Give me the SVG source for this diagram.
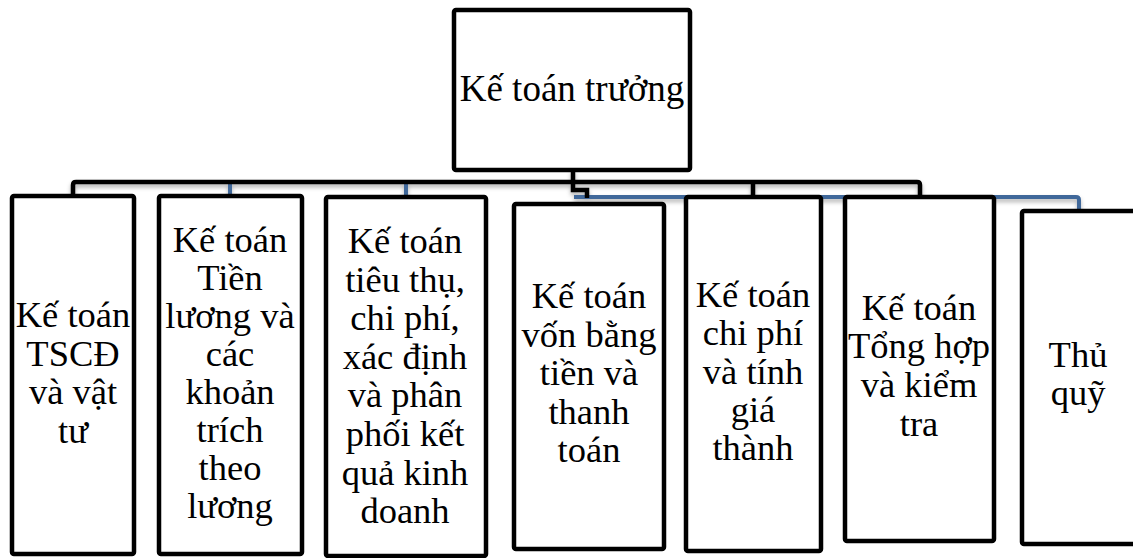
<svg xmlns="http://www.w3.org/2000/svg" width="1133" height="558" viewBox="0 0 1133 558">
  <defs>
    <filter id="soft" x="-10%" y="-10%" width="120%" height="140%">
      <feDropShadow dx="0" dy="3" stdDeviation="2" flood-color="#000" flood-opacity="0.3"/>
    </filter>
  </defs>
  <style>
    .box { fill: #fff; stroke: #000; stroke-width: 4.5; }
    .lbl { font-family: "Liberation Serif", "Times New Roman", serif; font-size: 36.5px; fill: #000; text-anchor: middle; }
    .top { font-size: 37px; }
    .blk { fill: none; stroke: #000; stroke-width: 4.5; }
    .blu { fill: none; stroke: #41679a; stroke-width: 4; }
  </style>
  <rect width="1133" height="558" fill="#fff"/>

  <!-- connectors -->
  <g id="connectors" filter="url(#soft)">
    <path class="blu" d="M230,183 V196 M406,183 V196 M574,197 H1076 Q1079,197 1079,200 V210"/>
    <path class="blk" d="M573,170 V190 H587 V198"/>
    <path class="blk" d="M73,196 V185 Q73,182 76,182 H917 Q920,182 920,185 V196"/>
    <path class="blk" d="M753,182 V196"/>
  </g>

  <!-- head -->
  <g id="n-head">
    <rect class="box" x="454" y="10" width="236" height="160" rx="2"/>
    <text class="lbl top" x="572" y="101">Kế toán trưởng</text>
  </g>

  <g id="n-tscd">
    <rect class="box" x="12" y="196" width="122" height="358" rx="2"/>
    <text class="lbl" x="73" y="327">Kế toán</text>
    <text class="lbl" x="73" y="366">TSCĐ</text>
    <text class="lbl" x="73" y="404">và vật</text>
    <text class="lbl" x="73" y="443">tư</text>
  </g>

  <g id="n-tienluong">
    <rect class="box" x="159" y="196" width="143" height="358" rx="2"/>
    <text class="lbl" x="230" y="252">Kế toán</text>
    <text class="lbl" x="230" y="290">Tiền</text>
    <text class="lbl" x="230" y="328">lương và</text>
    <text class="lbl" x="230" y="366">các</text>
    <text class="lbl" x="230" y="404">khoản</text>
    <text class="lbl" x="230" y="442">trích</text>
    <text class="lbl" x="230" y="480">theo</text>
    <text class="lbl" x="230" y="518">lương</text>
  </g>

  <g id="n-tieuthu">
    <rect class="box" x="326" y="197" width="160" height="359" rx="2"/>
    <text class="lbl" x="405" y="253">Kế toán</text>
    <text class="lbl" x="405" y="292">tiêu thụ,</text>
    <text class="lbl" x="405" y="330">chi phí,</text>
    <text class="lbl" x="405" y="369">xác định</text>
    <text class="lbl" x="405" y="407">và phân</text>
    <text class="lbl" x="405" y="446">phối kết</text>
    <text class="lbl" x="405" y="485">quả kinh</text>
    <text class="lbl" x="405" y="523">doanh</text>
  </g>

  <g id="n-von">
    <rect class="box" x="514" y="204" width="150" height="345" rx="2"/>
    <text class="lbl" x="589" y="308">Kế toán</text>
    <text class="lbl" x="589" y="347">vốn bằng</text>
    <text class="lbl" x="589" y="385">tiền và</text>
    <text class="lbl" x="589" y="424">thanh</text>
    <text class="lbl" x="589" y="462">toán</text>
  </g>

  <g id="n-chiphi">
    <rect class="box" x="686" y="197" width="135" height="354" rx="2"/>
    <text class="lbl" x="753" y="307">Kế toán</text>
    <text class="lbl" x="753" y="345">chi phí</text>
    <text class="lbl" x="753" y="384">và tính</text>
    <text class="lbl" x="753" y="422">giá</text>
    <text class="lbl" x="753" y="460">thành</text>
  </g>

  <g id="n-tonghop">
    <rect class="box" x="845" y="197" width="149" height="344" rx="2"/>
    <text class="lbl" x="919" y="320">Kế toán</text>
    <text class="lbl" x="919" y="358">Tổng hợp</text>
    <text class="lbl" x="919" y="397">và kiểm</text>
    <text class="lbl" x="919" y="436">tra</text>
  </g>

  <g id="n-thuquy">
    <rect class="box" x="1022" y="211" width="118" height="333" rx="2"/>
    <text class="lbl" x="1078" y="367">Thủ</text>
    <text class="lbl" x="1078" y="405">quỹ</text>
  </g>
</svg>
